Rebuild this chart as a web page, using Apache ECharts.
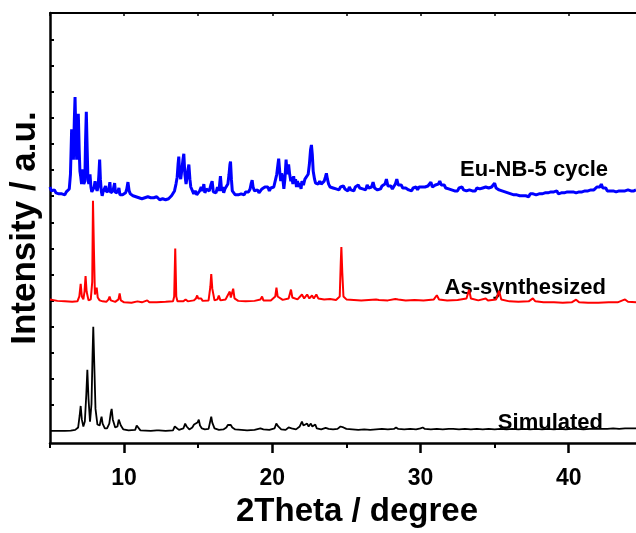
<!DOCTYPE html>
<html>
<head>
<meta charset="utf-8">
<script src="https://cdn.jsdelivr.net/npm/echarts@6/dist/echarts.min.js"></script>
<style>
html,body{margin:0;padding:0;background:#fff;}
#chart{width:636px;height:533px;}
</style>
</head>
<body>
<div id="chart"></div>
<script>
// ---- data (2Theta in degree, intensity in arbitrary units) ----
const xMin = 5;
const xMax = 44.54;
const xMajorTicks = [10, 20, 30, 40];
const xMinorTicks = [5, 15, 25, 35];
const xTopTicks = [5, 10, 15, 20, 25, 30, 35, 40];
const yTicks = [39, 65.7, 92.4, 119.1, 145.8, 172.5, 199.2, 225.9, 252.6, 279.3, 306, 332.7, 359.4, 386.1, 412.8];
const yMin = 0;
const yMax = 440;

const seriesNames = ['Simulated', 'As-synthesized', 'Eu-NB-5 cycle'];

const simulated = [
[5.0,12.5],[6.0,12.5],[6.4,12.8],[6.7,13.5],[6.9,16],[7.0,28],[7.07,38],[7.15,24],[7.25,17],[7.35,22],[7.45,50],[7.52,75],[7.6,45],[7.7,22],[7.8,40],[7.87,90],[7.92,119],[7.98,85],[8.07,35],[8.2,19],[8.35,18],[8.43,24],[8.48,27],[8.55,20],[8.7,15],[8.85,15],[9.0,20],[9.1,31],[9.16,35],[9.24,24],[9.4,16],[9.55,17],[9.64,24],[9.7,26],[9.78,18],[9.95,14],[10.3,13],[10.75,13.5],[10.85,18],[10.89,19],[10.95,16],[11.1,13],[11.8,12.5],[12.2,13],[12.28,14],[12.35,13],[12.8,12.5],[13.3,13],[13.42,17],[13.47,19],[13.53,16],[13.7,13.5],[14.0,15],[14.12,20],[14.16,22],[14.22,17],[14.4,14],[14.6,16],[14.72,19],[14.77,21],[14.85,18],[14.95,21],[15.04,24],[15.12,18],[15.25,15],[15.45,14],[15.7,14.5],[15.82,23],[15.88,27],[15.95,21],[16.1,15],[16.4,13.5],[16.7,14],[16.9,16],[17.0,18.5],[17.06,19],[17.13,17],[17.2,18.5],[17.3,16],[17.5,14],[17.9,13.5],[18.3,13],[18.8,13.5],[19.2,15],[19.31,16],[19.4,14],[19.8,13.5],[20.15,15],[20.27,20],[20.32,21],[20.4,17],[20.6,14],[20.9,13.5],[21.1,16],[21.2,17],[21.3,15],[21.6,14],[21.85,17],[22.0,22],[22.1,18],[22.2,17],[22.35,20],[22.45,17],[22.6,20],[22.7,17],[22.9,19],[23.0,15],[23.3,14],[23.6,15.5],[23.7,16],[23.8,14.5],[24.1,14],[24.4,14.5],[24.6,17],[24.7,19],[24.8,16],[25.0,14.5],[25.4,14],[25.8,13.5],[26.2,14],[26.6,13.5],[27.0,14],[27.4,14.5],[27.8,14],[28.2,14.5],[28.35,16],[28.5,14.5],[28.9,14],[29.3,14.5],[29.7,14],[30.0,15],[30.15,16],[30.3,14.5],[30.7,14],[31.1,14.5],[31.5,14],[31.9,14.5],[32.0,15.5],[32.2,14.5],[32.6,14],[33.0,14.5],[33.4,14],[33.8,14.5],[34.2,14],[34.6,14.5],[35.0,14],[35.4,14.5],[35.8,14],[36.2,14.5],[36.6,14],[37.0,14.5],[37.4,14],[37.8,14.5],[38.2,14],[38.6,14.5],[39.0,14],[39.4,14.5],[39.8,14],[40.2,14.5],[40.6,14.5],[41.0,14],[41.4,14.5],[41.8,14.5],[42.2,14.5],[42.6,14.5],[43.0,15],[43.4,14.5],[43.8,15],[44.2,15],[44.54,15]
];

const asSynthesized = [
[5.0,147],[5.5,145.5],[6.0,145],[6.5,144.5],[6.85,145],[6.98,150],[7.07,163],[7.15,150],[7.25,147],[7.33,155],[7.4,171],[7.47,155],[7.6,146],[7.75,147],[7.85,165],[7.9,248],[7.96,200],[8.03,152],[8.1,156],[8.15,159],[8.22,149],[8.35,146],[8.46,148],[8.55,145],[8.8,144.5],[8.95,147],[9.02,150],[9.1,146],[9.4,144.5],[9.62,147],[9.7,153],[9.78,146],[10.0,144],[10.5,143.5],[10.9,145],[11.2,144],[11.56,146],[11.7,144],[12.2,144],[12.8,144.5],[13.3,145],[13.38,150],[13.45,199],[13.52,150],[13.6,145],[14.0,145],[14.15,147],[14.3,145],[14.7,146],[14.85,148],[14.93,151],[15.0,148],[15.2,148],[15.3,145.5],[15.7,146],[15.82,160],[15.88,173],[15.95,158],[16.1,146],[16.3,147],[16.39,151],[16.5,146],[16.85,147],[16.95,150],[17.05,148],[17.13,155],[17.2,149],[17.3,150],[17.36,158],[17.45,148],[17.7,145.5],[18.2,145],[18.8,145.5],[19.2,147],[19.31,150],[19.4,146],[19.9,146],[20.2,150],[20.28,159],[20.36,150],[20.7,146.5],[21.1,148],[21.26,157],[21.35,149],[21.7,147],[22.0,152],[22.15,148],[22.35,152],[22.5,148],[22.68,151],[22.8,148],[22.97,152],[23.1,148],[23.5,147],[23.9,147.5],[24.3,146.5],[24.55,150],[24.62,185],[24.66,200.7],[24.72,175],[24.8,150],[25.0,147],[25.5,146.5],[26.0,146],[26.5,146.5],[27.0,147],[27.1,148],[27.2,146.5],[27.8,146],[28.3,147.5],[28.4,149],[28.5,147],[29.0,146],[29.6,146.5],[30.2,146],[30.9,147],[31.1,151.3],[31.25,147],[31.8,146],[32.5,146.5],[33.1,148],[33.28,157],[33.4,148],[33.9,146],[34.4,148],[34.55,146],[35.1,147],[35.3,155.7],[35.45,147],[36.0,145],[36.6,144.5],[37.3,145],[37.58,148],[37.75,145],[38.3,144],[39.0,144],[39.6,143.5],[40.2,144],[40.5,146.7],[40.7,144],[41.3,143.5],[42.0,143.5],[42.7,144],[43.3,144],[43.8,147],[44.0,144.5],[44.54,144]
];

const euNB5cycle = [
[5.0,262],[5.1,258],[5.2,257],[5.3,259],[5.4,256],[5.5,257],[5.6,255],[5.7,257],[5.8,255],[5.9,256],[6.0,254],[6.1,257],[6.2,256],[6.3,260],[6.38,275],[6.46,321],[6.52,300],[6.58,290],[6.64,330],[6.69,354],[6.75,310],[6.8,290],[6.86,320],[6.91,337],[6.97,300],[7.02,278],[7.07,273],[7.13,265],[7.18,275],[7.22,280],[7.28,265],[7.35,268],[7.4,310],[7.45,339],[7.51,300],[7.56,270],[7.62,265],[7.7,275],[7.76,262],[7.82,257],[7.9,258],[7.98,262],[8.04,268],[8.1,262],[8.18,258],[8.24,262],[8.3,275],[8.35,290],[8.4,270],[8.46,258],[8.52,253],[8.58,257],[8.64,258],[8.7,256],[8.75,263],[8.8,257],[8.88,255],[8.95,258],[9.04,267],[9.1,256],[9.18,255],[9.25,258],[9.31,256],[9.36,266],[9.42,256],[9.5,255],[9.58,257],[9.65,261],[9.72,254],[9.8,253],[9.9,254],[10.0,253],[10.1,256],[10.18,260],[10.26,267],[10.34,258],[10.42,255],[10.5,256],[10.6,253],[10.7,254],[10.8,252],[10.9,253],[11.0,251],[11.1,252],[11.2,250],[11.3,252],[11.4,251],[11.5,250],[11.6,252],[11.7,250],[11.8,251],[11.9,249],[12.0,251],[12.1,250],[12.2,252],[12.3,250],[12.4,249],[12.5,251],[12.6,250],[12.7,252],[12.8,249],[12.9,251],[13.0,250],[13.1,252],[13.2,253],[13.3,255],[13.4,258],[13.5,265],[13.58,272],[13.64,285],[13.69,293],[13.75,275],[13.82,270],[13.9,280],[13.97,290],[14.03,296],[14.1,275],[14.18,265],[14.25,272],[14.31,280],[14.37,285],[14.44,270],[14.5,262],[14.6,263],[14.7,255],[14.8,258],[14.9,254],[15.0,256],[15.1,258],[15.2,262],[15.3,258],[15.38,265],[15.45,256],[15.55,260],[15.65,262],[15.75,258],[15.85,264],[15.94,268],[16.02,257],[16.1,258],[16.2,256],[16.3,262],[16.4,258],[16.5,273],[16.58,258],[16.65,262],[16.72,256],[16.8,260],[16.9,262],[17.0,265],[17.08,275],[17.14,285],[17.18,288],[17.24,270],[17.3,258],[17.4,256],[17.5,254],[17.6,256],[17.7,254],[17.8,256],[17.9,255],[18.0,256],[18.1,254],[18.2,257],[18.3,255],[18.4,257],[18.5,260],[18.58,266],[18.64,269],[18.7,262],[18.8,258],[18.9,257],[19.0,259],[19.1,256],[19.2,258],[19.3,260],[19.4,258],[19.5,262],[19.6,260],[19.7,262],[19.8,258],[19.9,261],[20.0,260],[20.1,262],[20.2,262],[20.3,275],[20.38,285],[20.43,291],[20.5,278],[20.57,268],[20.63,276],[20.7,272],[20.78,260],[20.85,270],[20.93,290],[21.0,275],[21.06,280],[21.1,285],[21.17,275],[21.25,268],[21.32,272],[21.39,265],[21.44,273],[21.5,266],[21.57,270],[21.63,262],[21.7,268],[21.78,262],[21.86,266],[21.94,260],[22.0,268],[22.1,264],[22.2,270],[22.3,268],[22.42,275],[22.5,285],[22.58,300],[22.64,305],[22.7,295],[22.76,278],[22.85,270],[22.92,266],[23.0,268],[23.1,265],[23.2,268],[23.3,265],[23.4,266],[23.5,268],[23.58,272],[23.65,276],[23.72,270],[23.8,265],[23.9,262],[24.0,264],[24.1,261],[24.2,263],[24.3,260],[24.4,262],[24.5,259],[24.6,262],[24.7,260],[24.8,263],[24.9,260],[25.0,261],[25.1,258],[25.2,262],[25.3,259],[25.4,261],[25.5,258],[25.6,262],[25.7,260],[25.8,264],[25.9,261],[26.0,263],[26.1,260],[26.2,262],[26.3,259],[26.4,264],[26.5,261],[26.6,263],[26.7,262],[26.8,267],[26.9,261],[27.0,263],[27.1,259],[27.2,261],[27.3,260],[27.4,263],[27.5,262],[27.6,265],[27.7,270],[27.8,263],[27.9,261],[28.0,263],[28.1,260],[28.2,262],[28.3,265],[28.4,270],[28.5,264],[28.6,262],[28.7,264],[28.8,261],[28.9,263],[29.0,261],[29.1,262],[29.2,259],[29.3,261],[29.4,258],[29.5,261],[29.6,260],[29.7,262],[29.8,259],[29.9,262],[30.0,260],[30.1,262],[30.2,260],[30.3,262],[30.4,261],[30.5,263],[30.6,262],[30.7,267],[30.8,262],[30.9,261],[31.0,264],[31.1,263],[31.2,265],[31.3,268],[31.4,264],[31.5,262],[31.6,264],[31.7,261],[31.8,262],[31.9,260],[32.0,262],[32.1,259],[32.2,261],[32.3,258],[32.4,260],[32.5,258],[32.6,261],[32.7,259],[32.8,262],[32.9,259],[33.0,261],[33.1,258],[33.2,260],[33.3,259],[33.4,261],[33.5,258],[33.6,260],[33.7,258],[33.8,261],[33.9,259],[34.0,260],[34.1,258],[34.2,261],[34.3,259],[34.4,262],[34.5,260],[34.6,261],[34.7,259],[34.8,262],[34.9,263],[35.0,266],[35.1,261],[35.2,262],[35.3,259],[35.4,261],[35.5,258],[35.6,260],[35.7,257],[35.8,259],[35.9,256],[36.0,258],[36.1,255],[36.2,257],[36.3,254],[36.4,256],[36.5,254],[36.6,256],[36.7,253],[36.8,255],[36.9,253],[37.0,255],[37.1,253],[37.2,254],[37.3,252],[37.4,255],[37.5,253],[37.6,255],[37.7,253],[37.8,254],[37.9,252],[38.0,255],[38.1,253],[38.2,255],[38.3,254],[38.4,256],[38.5,254],[38.6,256],[38.7,254],[38.8,257],[38.9,255],[39.0,257],[39.1,256],[39.2,258],[39.3,255],[39.4,257],[39.5,256],[39.6,258],[39.7,256],[39.8,258],[39.9,257],[40.0,259],[40.1,257],[40.2,259],[40.3,257],[40.4,258],[40.5,256],[40.6,258],[40.7,257],[40.8,259],[40.9,257],[41.0,259],[41.1,258],[41.2,260],[41.3,258],[41.4,260],[41.5,259],[41.6,261],[41.7,259],[41.8,260],[41.9,262],[42.0,263],[42.1,262],[42.2,265],[42.3,261],[42.4,259],[42.5,261],[42.6,258],[42.7,260],[42.8,258],[42.9,260],[43.0,258],[43.1,260],[43.2,257],[43.3,259],[43.4,258],[43.5,260],[43.6,258],[43.7,260],[43.8,258],[43.9,260],[44.0,259],[44.1,260],[44.2,258],[44.3,260],[44.4,258],[44.54,259]
];

const FONT = '"Liberation Sans", Arial, sans-serif';
const chart = echarts.init(document.getElementById('chart'), null, {renderer: 'canvas'});

const baseX = {
  type: 'value', min: xMin, max: xMax,
  splitLine: {show: false}
};

chart.setOption({
  animation: false,
  backgroundColor: '#ffffff',
  grid: {left: 49, right: 0, top: 13, bottom: 80, containLabel: false},
  xAxis: [
    Object.assign({}, baseX, {
      position: 'bottom',
      name: '2Theta / degree',
      nameLocation: 'middle',
      nameGap: 37,
      nameTextStyle: {fontFamily: FONT, fontWeight: 'bold', fontSize: 33, color: '#000', padding: [0, 0, 0, 28]},
      axisLine: {show: true, onZero: false, lineStyle: {color: '#000', width: 2.5}},
      axisTick: {show: true, customValues: xMajorTicks, length: 10, lineStyle: {color: '#000', width: 2.5}},
      axisLabel: {show: true, customValues: xMajorTicks, margin: 24, fontFamily: FONT, fontWeight: 'bold', fontSize: 23, color: '#000',
        formatter: function (v) { return String(v); }}
    }),
    Object.assign({}, baseX, {
      position: 'bottom',
      axisLine: {show: false},
      axisTick: {show: true, customValues: xMinorTicks, length: 5, lineStyle: {color: '#000', width: 2}},
      axisLabel: {show: false}
    }),
    Object.assign({}, baseX, {
      position: 'top',
      axisLine: {show: true, onZero: false, lineStyle: {color: '#000', width: 2}},
      axisTick: {show: true, inside: true, customValues: xTopTicks, length: 3, lineStyle: {color: '#000', width: 1.5}},
      axisLabel: {show: false}
    })
  ],
  yAxis: [{
    type: 'value', min: yMin, max: yMax,
    position: 'left',
    name: 'Intensity / a.u.',
    nameLocation: 'middle',
    nameGap: 7,
    nameRotate: 90,
    nameTextStyle: {fontFamily: FONT, fontWeight: 'bold', fontSize: 35, color: '#000'},
    splitLine: {show: false},
    axisLine: {show: true, onZero: false, lineStyle: {color: '#000', width: 2.5}},
    axisTick: {show: true, inside: true, customValues: yTicks, length: 4, lineStyle: {color: '#000', width: 2}},
    axisLabel: {show: false}
  }],
  series: [
    {name: seriesNames[0], type: 'line', data: simulated, xAxisIndex: 0, yAxisIndex: 0, showSymbol: false, symbol: 'none',
      lineStyle: {color: '#000000', width: 1.8}, z: 3},
    {name: seriesNames[1], type: 'line', data: asSynthesized, xAxisIndex: 0, yAxisIndex: 0, showSymbol: false, symbol: 'none',
      lineStyle: {color: '#ff0000', width: 2}, z: 3},
    {name: seriesNames[2], type: 'line', data: euNB5cycle, xAxisIndex: 0, yAxisIndex: 0, showSymbol: false, symbol: 'none',
      lineStyle: {color: '#0000ff', width: 3}, z: 3}
  ],
  graphic: [
    {type: 'text', x: 608, y: 170, style: {text: seriesNames[2], align: 'right', verticalAlign: 'middle', fill: '#000', font: 'bold 22px ' + FONT}},
    {type: 'text', x: 606, y: 288, style: {text: seriesNames[1], align: 'right', verticalAlign: 'middle', fill: '#000', font: 'bold 22px ' + FONT}},
    {type: 'text', x: 603, y: 422.5, style: {text: seriesNames[0], align: 'right', verticalAlign: 'middle', fill: '#000', font: 'bold 22px ' + FONT}}
  ]
});
</script>
</body>
</html>
